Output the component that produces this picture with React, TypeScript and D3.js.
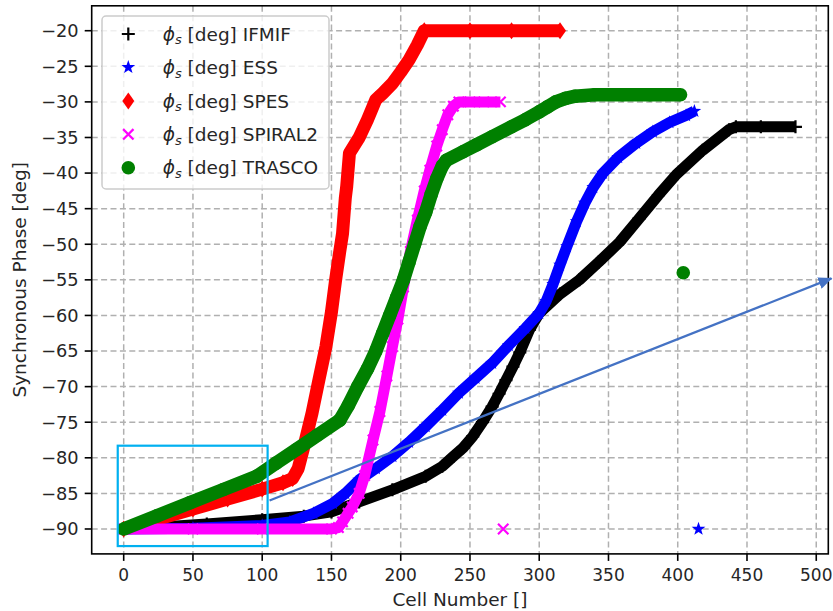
import React from "react";
import * as d3 from "d3";

// ---------- data ----------
const xTicks: number[] = [0, 50, 100, 150, 200, 250, 300, 350, 400, 450, 500];
const yTicks: number[] = [-90, -85, -80, -75, -70, -65, -60, -55, -50, -45, -40, -35, -30, -25, -20];

const ifmif: [number, number][] = [
  [0, -90], [30, -89.7], [60, -89.3], [100, -88.7], [130, -88.2], [150, -87.6], [170, -86.2],
  [194, -84.5], [218, -82.6], [230, -81.2], [238, -79.8], [245, -78.6], [252, -77], [259, -75],
  [266, -72.8], [271, -71], [276, -69.1], [281, -67.2], [286, -65.2], [293, -62], [300, -59.7],
  [315, -57], [329, -55], [343, -52.5], [358, -49.7], [372, -46.4], [386, -43.1], [399, -40.2],
  [418, -36.8], [437, -33.9], [442, -33.5], [460, -33.5], [485, -33.5],
];
const ess: [number, number][] = [
  [0, -90], [50, -89.9], [100, -89.5], [120, -89], [137, -87.8], [151, -86.4], [160, -85],
  [170, -83.1], [182, -81.5], [194, -79.8], [206, -77.8], [218, -75.6], [230, -73.3], [242, -70.9],
  [254, -68.8], [266, -66.7], [278, -64.2], [290, -61.8], [300, -59.7], [305, -58], [310, -55.6],
  [315, -52.9], [320, -50.3], [327, -46.8], [333, -44.2], [339, -42], [346, -40], [357, -37.8],
  [370, -35.8], [382, -34.2], [394, -32.9], [406, -31.9], [412, -31.3],
];
const spes: [number, number][] = [
  [0, -90], [25, -88.6], [50, -87.2], [75, -85.8], [100, -84.4], [115, -83.5], [122, -82.9],
  [126, -81.5], [130, -78.5], [136, -73.7], [141, -69], [146, -64.4], [150, -59.5], [153, -55],
  [156, -51], [158, -48.5], [160, -43.5], [161, -41.9], [163, -37.2], [170, -35], [176, -32.5],
  [182, -29.7], [187, -28.8], [194, -27.4], [200, -25.8], [206, -24.1], [212, -22], [217, -20],
  [250, -20], [280, -20], [315, -20],
];
const spiral2: [number, number][] = [
  [0, -90], [50, -90], [100, -90], [150, -90], [155, -89.8], [158, -89], [162, -87.8], [165, -86.9],
  [170, -85], [174, -82.5], [180, -77.5], [185, -73.5], [190, -68.5], [194, -64.4], [198, -60.5],
  [202, -56], [207, -51], [212, -46.6], [217, -42.5], [221, -39.6], [226, -36.2], [230, -33.9],
  [234, -31.8], [238, -30.6], [242, -30], [250, -30], [260, -30], [272, -30],
];
const trasco: [number, number][] = [
  [0, -90], [24, -88.15], [48, -86.3], [72, -84.45], [96, -82.6], [110, -80.75], [125, -78.8],
  [140, -76.8], [156, -74.7], [162, -72.7], [169, -70], [176, -67.5], [182, -65], [187, -62.5],
  [192, -60], [197, -57.5], [202, -55], [206, -52.5], [210, -50], [214, -47.5], [218, -45.5],
  [222, -43], [226, -40.8], [230, -39], [233, -38.2], [245, -37], [255, -36], [266, -34.9],
  [280, -33.5], [290, -32.5], [300, -31.4], [306, -30.7], [312, -30], [319, -29.5], [326, -29.2],
  [340, -29], [360, -29], [380, -29], [402, -29],
];
// isolated final points of some series
const essTail: [number, number][] = [[415, -90]];
const spiral2Tail: [number, number][] = [[274, -90]];
const trascoTail: [number, number][] = [[404, -54]];

const seriesNames: string[] = ["IFMIF", "ESS", "SPES", "SPIRAL2", "TRASCO"];

// annotation overlay (zoom box + arrow), in data units
const zoomBox = { x0: -4.3, x1: 103.9, y0: -92.4, y1: -78.3 };
const arrowFrom: [number, number] = [105.3, -86];
const arrowTo: [number, number] = [511, -54.8];

// ---------- layout ----------
const W = 833;
const H = 611;
const L = 91.7, R = 828.3, T = 5.8, B = 553.9;
const FONT = "DejaVu Sans";
const FS = 18.5;
const TFS = 17;

const x = d3.scaleLinear().domain([-23.1, 508.7]).range([L, R]);
const y = d3.scaleLinear().domain([-93.5, -16.5]).range([B, T]);

type Kind = "plus" | "star" | "diamond" | "x" | "circle";

function starPath(ro: number, ri: number): string {
  const pts: string[] = [];
  for (let i = 0; i < 10; i++) {
    const r = i % 2 === 0 ? ro : ri;
    const a = -Math.PI / 2 + (i * Math.PI) / 5;
    pts.push(`${(r * Math.cos(a)).toFixed(2)},${(r * Math.sin(a)).toFixed(2)}`);
  }
  return "M" + pts.join("L") + "Z";
}
const STAR = starPath(7.2, 2.9);

function Marker({ kind, color, cx, cy }: { kind: Kind; color: string; cx: number; cy: number }) {
  const t = `translate(${cx},${cy})`;
  switch (kind) {
    case "plus":
      return <path transform={t} d="M-6.5,0H6.5M0,-6.5V6.5" stroke={color} strokeWidth={2.2} fill="none" />;
    case "star":
      return <path transform={t} d={STAR} fill={color} />;
    case "diamond":
      return <path transform={t} d="M0,-8.5L6,0L0,8.5L-6,0Z" fill={color} />;
    case "x":
      return <path transform={t} d="M-5.2,-5.2L5.2,5.2M-5.2,5.2L5.2,-5.2" stroke={color} strokeWidth={2.2} fill="none" />;
    case "circle":
      return <circle cx={cx} cy={cy} r={6.8} fill={color} />;
  }
}

const series = [
  { name: seriesNames[0], data: ifmif, tail: [] as [number, number][], color: "#000000", kind: "plus" as Kind, band: 11 },
  { name: seriesNames[1], data: ess, tail: essTail, color: "#0000ff", kind: "star" as Kind, band: 11 },
  { name: seriesNames[2], data: spes, tail: [] as [number, number][], color: "#ff0000", kind: "diamond" as Kind, band: 13 },
  { name: seriesNames[3], data: spiral2, tail: spiral2Tail, color: "#ff00ff", kind: "x" as Kind, band: 11 },
  { name: seriesNames[4], data: trasco, tail: trascoTail, color: "#008000", kind: "circle" as Kind, band: 13.6 },
];

const line = d3
  .line<[number, number]>()
  .x((d) => x(d[0]))
  .y((d) => y(d[1]));

const fmt = (v: number) => String(v).replace("-", "\u2212");

export default function App() {
  const legX = 102, legY = 16, legW = 227, legH = 173;
  const rowY = [34, 67.3, 101, 134.3, 167.7];
  return (
    <svg
      width={W}
      height={H}
      viewBox={`0 0 ${W} ${H}`}
      style={{ position: "absolute", left: 0, top: 0, background: "#fff" }}
      fontFamily={FONT}
    >
      <defs>
        <marker id="ah" markerUnits="userSpaceOnUse" markerWidth="14" markerHeight="12" refX="13" refY="6" orient="auto">
          <path d="M0,0L14,6L0,12Z" fill="#4472C4" />
        </marker>
      </defs>
      <rect x={0} y={0} width={W} height={H} fill="#fff" />
      {/* grid */}
      <g stroke="#b0b0b0" strokeWidth={1.5} strokeDasharray="6,3.4">
        {xTicks.map((v) => (
          <line key={"gx" + v} x1={x(v)} x2={x(v)} y1={T} y2={B} />
        ))}
        {yTicks.map((v) => (
          <line key={"gy" + v} x1={L} x2={R} y1={y(v)} y2={y(v)} />
        ))}
      </g>
      {/* series */}
      {series.map((s) => (
        <g key={s.name}>
          <path
            d={line(s.data) || ""}
            fill="none"
            stroke={s.color}
            strokeWidth={s.band}
            strokeLinejoin="round"
            strokeLinecap="butt"
          />
          {s.data.map((d, i) => (
            <Marker key={i} kind={s.kind} color={s.color} cx={x(d[0])} cy={y(d[1])} />
          ))}
          {s.tail.map((d, i) => (
            <Marker key={"t" + i} kind={s.kind} color={s.color} cx={x(d[0])} cy={y(d[1])} />
          ))}
        </g>
      ))}
      {/* spines */}
      <rect x={L} y={T} width={R - L} height={B - T} fill="none" stroke="#000" strokeWidth={1.6} />
      {/* ticks */}
      <g stroke="#000" strokeWidth={1.6}>
        {xTicks.map((v) => (
          <line key={"tx" + v} x1={x(v)} x2={x(v)} y1={B} y2={B + 7} />
        ))}
        {yTicks.map((v) => (
          <line key={"ty" + v} x1={L - 7} x2={L} y1={y(v)} y2={y(v)} />
        ))}
      </g>
      <g fontSize={TFS} fill="#262626">
        {xTicks.map((v) => (
          <text key={"lx" + v} x={x(v)} y={581} textAnchor="middle">
            {fmt(v)}
          </text>
        ))}
        {yTicks.map((v) => (
          <text key={"ly" + v} x={L - 13} y={y(v)} dy="0.36em" textAnchor="end" fontSize={17.8}>
            {fmt(v)}
          </text>
        ))}
      </g>
      {/* axis labels */}
      <text x={(L + R) / 2} y={606} textAnchor="middle" fontSize={FS} fill="#262626">
        Cell Number []
      </text>
      <text
        transform={`translate(26,${(T + B) / 2}) rotate(-90)`}
        textAnchor="middle"
        fontSize={FS}
        fill="#262626"
      >
        Synchronous Phase [deg]
      </text>
      {/* legend */}
      <rect x={legX} y={legY} width={legW} height={legH} rx={4} fill="#fff" fillOpacity={0.8} stroke="#cccccc" strokeWidth={1.5} />
      {series.map((s, i) => (
        <g key={"leg" + s.name}>
          <Marker kind={s.kind} color={s.color} cx={128.3} cy={rowY[i]} />
          <text x={162.7} y={rowY[i]} dy="0.36em" fontSize={FS} fill="#262626">
            <tspan fontStyle="italic">ϕ</tspan>
            <tspan fontStyle="italic" fontSize={FS * 0.7} dy="0.28em">s</tspan>
            <tspan dy="-0.2em"> [deg] {s.name}</tspan>
          </text>
        </g>
      ))}
      {/* annotation overlay */}
      <rect
        x={x(zoomBox.x0)}
        y={y(zoomBox.y1)}
        width={x(zoomBox.x1) - x(zoomBox.x0)}
        height={y(zoomBox.y0) - y(zoomBox.y1)}
        fill="none"
        stroke="#00B0F0"
        strokeWidth={2.2}
      />
      <line
        x1={x(arrowFrom[0])}
        y1={y(arrowFrom[1])}
        x2={x(arrowTo[0])}
        y2={y(arrowTo[1])}
        stroke="#4472C4"
        strokeWidth={2.3}
        markerEnd="url(#ah)"
      />
    </svg>
  );
}
